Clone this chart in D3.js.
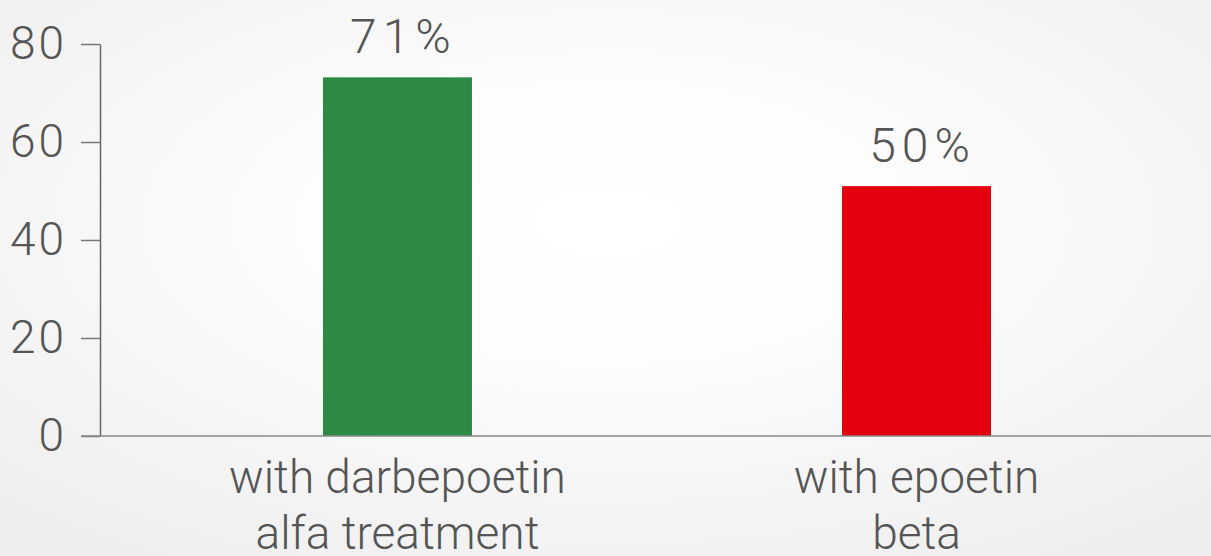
<!DOCTYPE html>
<html lang="en">
<head>
<meta charset="UTF-8">
<script src="https://cdnjs.cloudflare.com/ajax/libs/d3/7.8.5/d3.min.js"></script>
<style>
    html, body { margin: 0; padding: 0; overflow: hidden; }
    svg { display: block; font-family: Roboto, "Liberation Sans", sans-serif; }
</style>
</head>
<body>
<script>
    var categories = [["with darbepoetin", "alfa treatment"], ["with epoetin", "beta"]];
    var values = [73.2, 51.0];
    var valueLabels = ["71%", "50%"];
    var barColors = ["#2c8a45", "#e3000f"];
    var yTicks = [0, 20, 40, 60, 80];

    var width = 1211, height = 556;

    var svg = d3.select("body").append("svg")
        .attr("width", width)
        .attr("height", height);

    // soft radial background
    var grad = svg.append("defs").append("radialGradient")
        .attr("id", "bg")
        .attr("cx", "50%").attr("cy", "40%").attr("r", "75%");
    grad.append("stop").attr("offset", "0%").attr("stop-color", "#ffffff");
    grad.append("stop").attr("offset", "35%").attr("stop-color", "#fcfcfc");
    grad.append("stop").attr("offset", "100%").attr("stop-color", "#ededed");
    svg.append("rect").attr("width", width).attr("height", height).attr("fill", "url(#bg)");

    var y = d3.scaleLinear().domain([0, 80]).range([436, 44]);
    var x = d3.scaleBand()
        .domain(d3.range(categories.length))
        .range([63.5, 1250.5])
        .paddingInner(0.713)
        .paddingOuter(0.5);

    // bars
    svg.selectAll(".bar")
        .data(values)
        .enter()
        .append("rect")
        .attr("class", "bar")
        .attr("x", function (d, i) { return x(i); })
        .attr("width", x.bandwidth())
        .attr("y", function (d) { return y(d); })
        .attr("height", function (d) { return y(0) - y(d); })
        .attr("fill", function (d, i) { return barColors[i]; });

    // value labels
    svg.selectAll(".valueText")
        .data(values)
        .enter()
        .append("text")
        .attr("class", "valueText")
        .attr("x", function (d, i) { return x(i) + x.bandwidth() / 2 + 6; })
        .attr("y", function (d) { return y(d) - 24; })
        .attr("text-anchor", "middle")
        .attr("fill", "#555")
        .attr("font-size", "48px")
        .attr("font-weight", 300)
        .attr("letter-spacing", "6px")
        .text(function (d, i) { return valueLabels[i]; });

    // y axis
    var yAxis = svg.append("g")
        .attr("transform", "translate(100,0)")
        .call(d3.axisLeft(y).tickValues(yTicks).tickSize(19).tickSizeOuter(0).tickPadding(14));
    yAxis.select(".domain").attr("stroke", "#666").attr("stroke-width", 1.5);
    yAxis.selectAll(".tick line").attr("stroke", "#777").attr("stroke-width", 1.5);
    yAxis.selectAll(".tick text")
        .attr("fill", "#555")
        .attr("font-size", "46px")
        .attr("font-weight", 300)
        .attr("letter-spacing", "3px")
        .attr("font-family", "Roboto, 'Liberation Sans', sans-serif");

    // x baseline
    svg.append("line")
        .attr("x1", 81).attr("x2", width)
        .attr("y1", y(0)).attr("y2", y(0))
        .attr("stroke", "#888")
        .attr("stroke-width", 1.5);

    // category labels
    var cat = svg.selectAll(".catText")
        .data(categories)
        .enter()
        .append("text")
        .attr("class", "catText")
        .attr("text-anchor", "middle")
        .attr("fill", "#555")
        .attr("font-size", "46px")
        .attr("font-weight", 300);
    cat.selectAll("tspan")
        .data(function (d, i) { return d.map(function (t) { return { t: t, i: i }; }); })
        .enter()
        .append("tspan")
        .attr("x", function (d) { return x(d.i) + x.bandwidth() / 2; })
        .attr("y", function (d, j) { return 493 + j * 56; })
        .text(function (d) { return d.t; });
</script>
</body>
</html>
